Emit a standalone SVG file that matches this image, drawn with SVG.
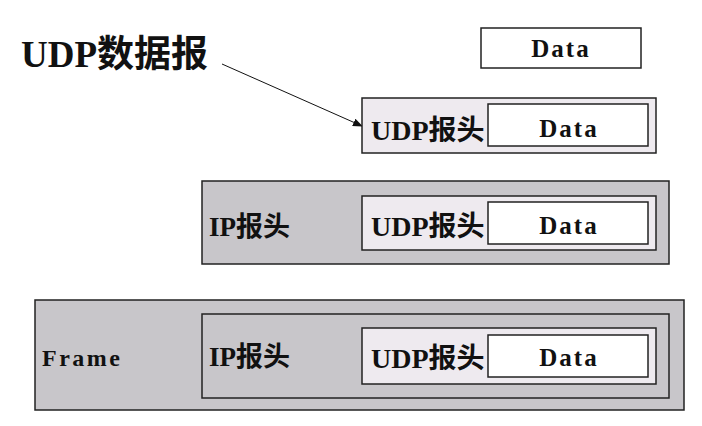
<svg xmlns="http://www.w3.org/2000/svg" width="702" height="426" viewBox="0 0 702 426">
<defs>
<style>
.box{stroke:#222;stroke-width:1.5}
.data{fill:#fff}
.udp{fill:#eeeaef}
.grey{fill:#c8c6ca}
text{font-family:"Liberation Serif","Noto Sans CJK SC",serif;font-weight:bold;fill:#111}
.dt{font-size:25px;text-anchor:middle;letter-spacing:2px}
.lb{font-size:28px}
.ip{font-size:27px}
.fr{font-size:24px;letter-spacing:2.5px}
</style>
<marker id="ah" markerWidth="10" markerHeight="8" refX="9" refY="4" orient="auto" markerUnits="userSpaceOnUse">
<path d="M0,0 L10,4 L0,8 z" fill="#111"/>
</marker>
</defs>
<rect width="702" height="426" fill="#fff"/>
<g id="label-udp-datagram">
<text x="21" y="67" style="font-size:37px">UDP数据报</text>
</g>
<g id="connectors">
<line x1="222" y1="64" x2="362" y2="126" stroke="#111" stroke-width="1" marker-end="url(#ah)"/>
</g>
<g id="data-alone">
<rect class="box data" x="481" y="28" width="160" height="40"/>
<text class="dt" x="561" y="57">Data</text>
</g>
<g id="udp-datagram">
<rect class="box udp" x="362" y="98" width="294" height="55"/>
<text class="lb" x="371" y="140">UDP报头</text>
<rect class="box data" x="488" y="104" width="160" height="42"/>
<text class="dt" x="569" y="137">Data</text>
</g>
<g id="ip-packet">
<rect class="box grey" x="202" y="181" width="467" height="83"/>
<text class="ip" x="209" y="236">IP报头</text>
<rect class="box udp" x="362" y="196" width="294" height="54"/>
<text class="lb" x="371" y="236">UDP报头</text>
<rect class="box data" x="488" y="202" width="160" height="42"/>
<text class="dt" x="569" y="234">Data</text>
</g>
<g id="frame">
<rect class="box grey" x="35" y="300" width="649" height="110"/>
<text class="fr" x="42" y="366">Frame</text>
<rect class="box grey" x="202" y="314" width="467" height="84"/>
<text class="ip" x="209" y="366">IP报头</text>
<rect class="box udp" x="362" y="328" width="294" height="56"/>
<text class="lb" x="371" y="368">UDP报头</text>
<rect class="box data" x="488" y="335" width="160" height="42"/>
<text class="dt" x="569" y="366">Data</text>
</g>
</svg>
